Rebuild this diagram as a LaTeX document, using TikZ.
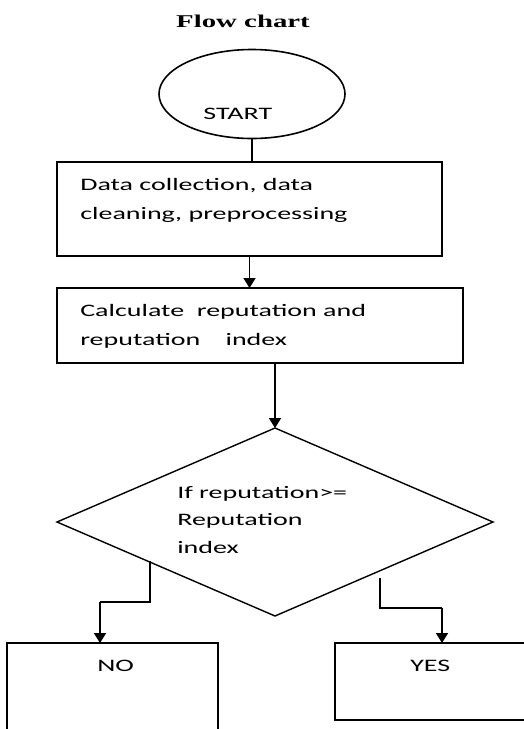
\documentclass[tikz,border=0pt]{standalone}
\usepackage{fontspec}
\setmainfont{Carlito}
\newfontfamily\titlefont{Liberation Serif}
\usetikzlibrary{positioning,arrows.meta,shapes.geometric}

\tikzset{
  box/.style={draw, line width=2pt, outer sep=0pt, inner sep=0pt},
  txt/.style={font=\fontsize{17.5}{28.5}\selectfont, inner sep=0pt, xscale=1.6, transform shape, anchor=base west, align=left},
  arr/.style={line width=1.8pt, -{Triangle[width=12pt,length=10pt]}}
}

\begin{document}
\begin{tikzpicture}[x=1pt,y=-1pt]
  \useasboundingbox (0,0) rectangle (524,729);
  \clip (0,0) rectangle (524,729);

  \node[inner sep=0pt, anchor=base, xscale=1.6, transform shape, font=\titlefont\bfseries\fontsize{18}{20}\selectfont] (title) at (243,27) {Flow chart};

  % shapes
  \node[ellipse, draw, line width=1.6pt, minimum width=186pt, minimum height=89pt, inner sep=0pt, outer sep=0pt] (start) at (252,94) {};
  \node[box, minimum width=385pt, minimum height=94pt] (collect) at (249.5,209) {};
  \node[box, minimum width=406pt, minimum height=75pt] (calc) at (260,325.5) {};
  \node[diamond, draw, line width=1.4pt, minimum width=436pt, minimum height=188pt, inner sep=0pt, outer sep=0pt] (decide) at (275,522) {};
  \node[box, minimum width=211pt, minimum height=110pt] (nobox) at (112.5,698) {};
  \node[box, minimum width=193pt, minimum height=77pt] (yesbox) at (431.5,681.5) {};

  % texts (base = last line)
  \node[txt] (startlbl) at (203,119) {START};
  \node[txt] (collectlbl) at (80,219) {Data collection, data\\cleaning, preprocessing};
  \node[txt] (calclbl) at (80,345) {Calculate\ \ reputation and\\reputation\ \ \ \ index};
  \node[txt, font=\fontsize{17.5}{27.5}\selectfont] (decidelbl) at (177,553) {If reputation>=\\Reputation\\index};
  \node[txt] (nolbl) at (97,671) {NO};
  \node[txt] (yeslbl) at (410,671) {YES};

  % connectors
  \coordinate (noout) at (150,561);
  \coordinate (nobend) at (100,602);
  \coordinate (yesout) at (380,578);
  \coordinate (yesbend) at (442,608);

  \draw[line width=1.8pt] (start.south) -- (start.south |- collect.north);
  \draw[arr] (collect.south) -- (collect.south |- calc.north);
  \draw[arr] (decide.north |- calc.south) -- (decide.north);
  \draw[line width=1.8pt] (noout) |- (nobend);
  \draw[arr] (nobend) -- (nobend |- nobox.north);
  \draw[line width=1.8pt] (yesout) |- (yesbend);
  \draw[arr] (yesbend) -- (yesbend |- yesbox.north);
\end{tikzpicture}
\end{document}
